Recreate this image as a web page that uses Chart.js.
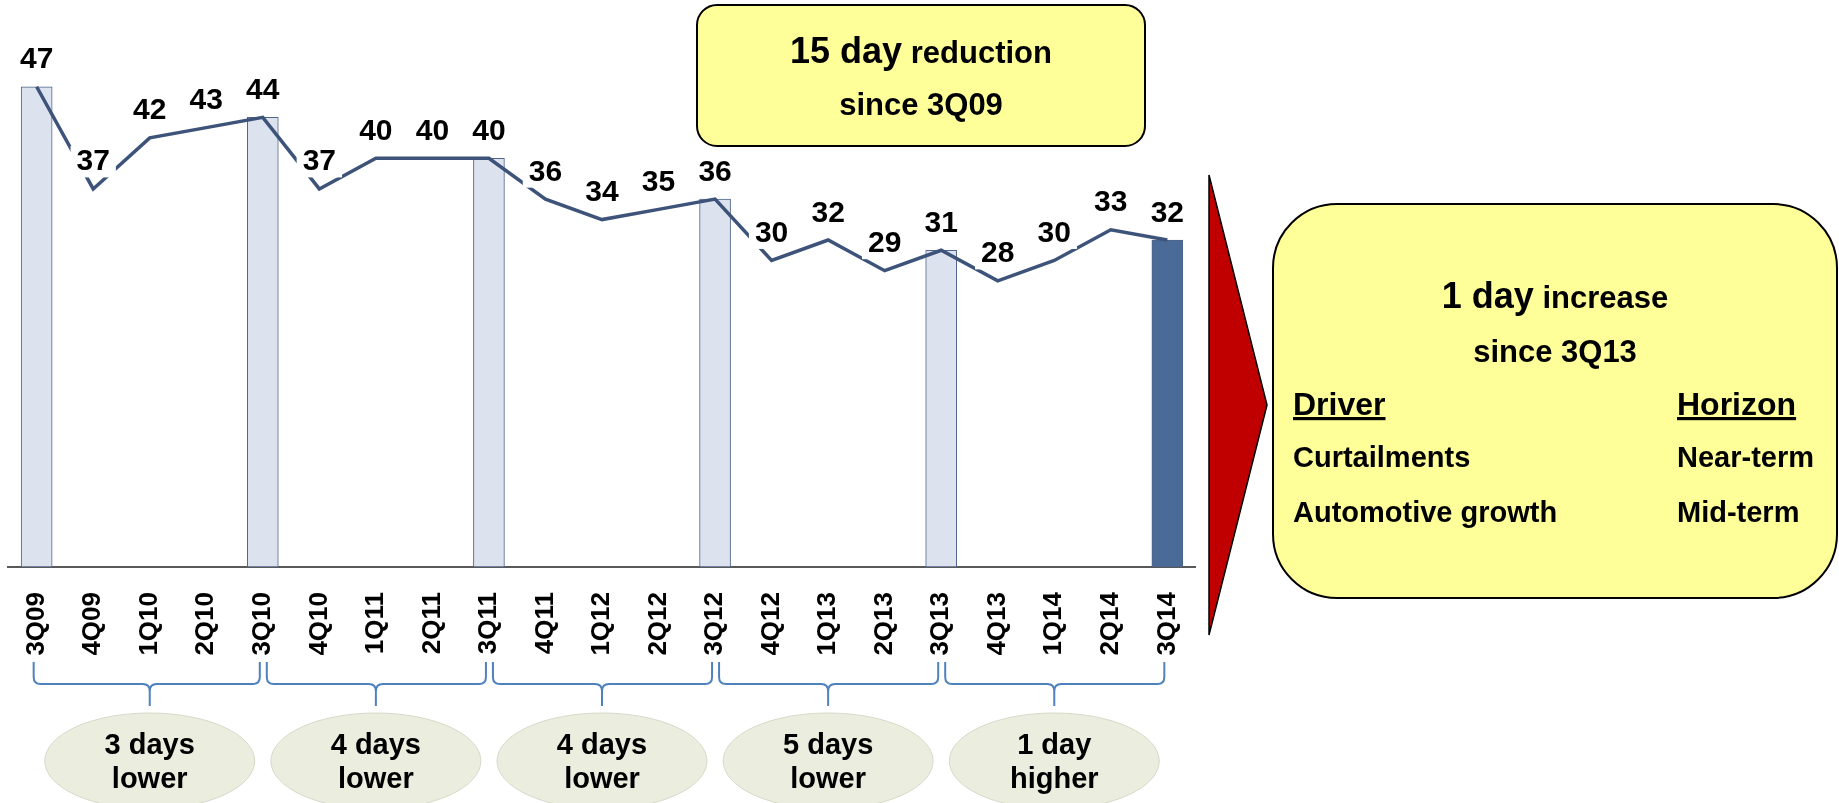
<!DOCTYPE html>
<html>
<head>
<meta charset="utf-8">
<title>Days Sales Outstanding</title>
<script src="https://cdn.jsdelivr.net/npm/chart.js@4.4.1/dist/chart.umd.min.js"></script>
<style>
  html, body { margin: 0; padding: 0; background: #ffffff; }
  #wrap { position: relative; width: 1839px; height: 803px; overflow: hidden; }
  #chart { position: absolute; left: 0; top: 0; }
  #overlay { position: absolute; left: 0; top: 0; pointer-events: none; }
  #overlay text { font-family: "Liberation Sans", Arial, sans-serif; font-weight: bold; fill: #000; }
</style>
</head>
<body>
<div id="wrap">
  <canvas id="chart" width="1839" height="803"></canvas>
  <svg id="overlay" width="1839" height="803" xmlns="http://www.w3.org/2000/svg"></svg>
</div>
<script>
// Quarterly days sales outstanding
const quarters = ['3Q09','4Q09','1Q10','2Q10','3Q10','4Q10','1Q11','2Q11','3Q11','4Q11','1Q12',
                  '2Q12','3Q12','4Q12','1Q13','2Q13','3Q13','4Q13','1Q14','2Q14','3Q14'];
const dsoDays = [47, 37, 42, 43, 44, 37, 40, 40, 40, 36, 34, 35, 36, 30, 32, 29, 31, 28, 30, 33, 32];

// Third-quarter columns (year-over-year comparison points)
const yoyDays = quarters.map((q, i) => (q.startsWith('3Q') ? dsoDays[i] : null));

// Year-over-year change groups (start / end quarter index and caption)
const groupStart = [0, 4, 8, 12, 16];
const groupEnd = [4, 8, 12, 16, 20];
const groupLine1 = ['3 days', '4 days', '4 days', '5 days', '1 day'];
const groupLine2 = ['lower', 'lower', 'lower', 'lower', 'higher'];

const FONT = '"Liberation Sans", Arial, sans-serif';
const LINE_COLOR = '#3D5379';
const LIGHT_BAR = '#DCE3EE';
const DARK_BAR = '#4A6A98';
const BAR_EDGE = '#4F6589';

// Value labels on white plates, drawn above the trend line
const valueLabels = {
  id: 'valueLabels',
  afterDatasetsDraw(chart) {
    const meta = chart.getDatasetMeta(1);
    const ctx = chart.ctx;
    ctx.save();
    ctx.font = 'bold 30px ' + FONT;
    ctx.textAlign = 'center';
    ctx.textBaseline = 'alphabetic';
    meta.data.forEach((pt, i) => {
      const txt = String(dsoDays[i]);
      const w = ctx.measureText(txt).width;
      const base = pt.y - 18.5;
      ctx.fillStyle = '#ffffff';
      ctx.fillRect(pt.x - w / 2 - 6, base - 24.5, w + 12, 31.5);
      ctx.fillStyle = '#000000';
      ctx.fillText(txt, pt.x, base);
    });
    ctx.restore();
  }
};

const chart = new Chart(document.getElementById('chart'), {
  data: {
    labels: quarters,
    datasets: [
      {
        type: 'bar',
        data: yoyDays,
        order: 1,
        barThickness: 31,
        backgroundColor: ctx => (ctx.dataIndex === quarters.length - 1 ? DARK_BAR : LIGHT_BAR),
        borderColor: BAR_EDGE,
        borderWidth: 1,
        borderSkipped: false
      },
      {
        type: 'line',
        data: dsoDays,
        order: 0,
        borderColor: LINE_COLOR,
        borderWidth: 3.5,
        pointRadius: 0,
        tension: 0,
        fill: false
      }
    ]
  },
  options: {
    responsive: false,
    animation: false,
    layout: { padding: { left: 8.4, right: 643.4, top: 5, bottom: 0 } },
    plugins: { legend: { display: false }, tooltip: { enabled: false } },
    scales: {
      x: {
        offset: true,
        grid: { display: false, drawTicks: false },
        border: { display: true, color: '#595959', width: 2 },
        ticks: {
          autoSkip: false,
          minRotation: 90,
          maxRotation: 90,
          padding: 25,
          color: '#000',
          font: { family: FONT, size: 26, weight: 'bold' }
        },
        afterFit(scale) { scale.height = 236; }
      },
      y: {
        display: false,
        min: 0,
        max: 55
      }
    }
  },
  plugins: [valueLabels]
});

// Annotation layer: call-out boxes, arrow, braces and group captions
(function buildOverlay() {
  const svg = document.getElementById('overlay');
  const NS = 'http://www.w3.org/2000/svg';
  function add(tag, attrs, parent) {
    const n = document.createElementNS(NS, tag);
    for (const k in attrs) n.setAttribute(k, attrs[k]);
    (parent || svg).appendChild(n);
    return n;
  }
  function text(x, y, size, str, anchor, parent, extra) {
    const t = add('text', Object.assign({ x: x, y: y, 'font-size': size, 'text-anchor': anchor || 'middle' }, extra || {}), parent);
    t.textContent = str;
    return t;
  }
  function mixed(x, y, parts) {
    const t = add('text', { x: x, y: y, 'text-anchor': 'middle' });
    parts.forEach(p => {
      const s = add('tspan', { 'font-size': p[1] }, t);
      s.textContent = p[0];
    });
  }

  // Summary box at the top
  add('rect', { x: 697, y: 5, width: 448, height: 141, rx: 20, ry: 20, fill: '#FFFF99', stroke: '#000', 'stroke-width': 2 });
  mixed(921, 63, [['15 day', 36], [' reduction', 31]]);
  text(921, 115, 31, 'since 3Q09');

  // Red arrow pointing to the outlook box
  add('polygon', { points: '1209,175 1267,405 1209,635', fill: '#C00000', stroke: '#000', 'stroke-width': 1.5 });

  // Outlook box
  add('rect', { x: 1273, y: 204, width: 564, height: 394, rx: 64, ry: 64, fill: '#FFFF99', stroke: '#000', 'stroke-width': 2 });
  mixed(1555, 308, [['1 day', 36], [' increase', 31]]);
  text(1555, 362, 31, 'since 3Q13');
  text(1293, 415, 32, 'Driver', 'start', null, { 'text-decoration': 'underline' });
  text(1677, 415, 32, 'Horizon', 'start', null, { 'text-decoration': 'underline' });
  text(1293, 467, 29, 'Curtailments', 'start');
  text(1677, 467, 29, 'Near-term', 'start');
  text(1293, 522, 29, 'Automotive growth', 'start');
  text(1677, 522, 29, 'Mid-term', 'start');

  // Braces under the axis and year-over-year captions
  const xs = chart.scales.x;
  const y0 = 662, y1 = 684, y2 = 706, r = 7;
  groupStart.forEach((s, g) => {
    const a = xs.getPixelForValue(s) + (g === 0 ? -3 : 4);
    const b = xs.getPixelForValue(groupEnd[g]) - 3;
    const m = (xs.getPixelForValue(s) + xs.getPixelForValue(groupEnd[g])) / 2;
    const d = `M${a},${y0} L${a},${y1 - r} Q${a},${y1} ${a + r},${y1} L${m - r},${y1} Q${m},${y1} ${m},${y1 + r} L${m},${y2} ` +
              `M${m},${y1 + r} Q${m},${y1} ${m + r},${y1} L${b - r},${y1} Q${b},${y1} ${b},${y1 - r} L${b},${y0}`;
    add('path', { d: d, fill: 'none', stroke: '#4F81BD', 'stroke-width': 2 });
    add('ellipse', { cx: m, cy: 761, rx: 105, ry: 48, fill: '#EBEEDF', stroke: '#D6D9C8', 'stroke-width': 1 });
    text(m, 754, 29, groupLine1[g]);
    text(m, 788, 29, groupLine2[g]);
  });
})();
</script>
</body>
</html>
